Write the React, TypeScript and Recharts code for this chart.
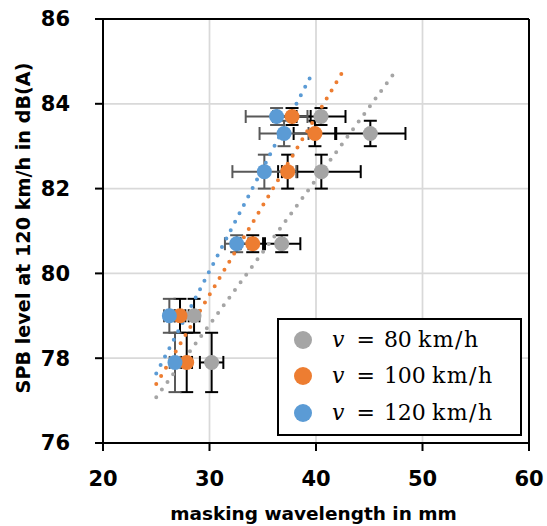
import React from 'react';
import { ScatterChart, Scatter, XAxis, YAxis, CartesianGrid, ErrorBar, ReferenceLine, Label } from 'recharts';

// ---- data ----
const speeds = ['80', '100', '120'];
const speedUnit = 'km/h';
const seriesColors = ['#A5A5A5', '#ED7D31', '#5B9BD5'];
const errorColors = ['#000000', '#000000', '#595959'];

// SPB level in dB(A) (shared rows)
const spbLevels = [77.9, 79.0, 80.7, 82.4, 83.3, 83.7];
const spbErr = [0.7, 0.4, 0.2, 0.4, 0.3, 0.2];

// masking wavelength in mm per speed
const wavelength80 = [30.2, 28.55, 36.78, 40.5, 45.1, 40.47];
const wavelength100 = [27.86, 27.23, 34.06, 37.34, 39.9, 37.75];
const wavelength120 = [26.76, 26.23, 32.55, 35.15, 37.0, 36.3];

const wavelengthErr80 = [1.1, 0.5, 1.75, 3.7, 3.3, 2.3];
const wavelengthErr100 = [0.5, 0.5, 1.15, 0.9, 2.0, 1.75];
const wavelengthErr120 = [0.5, 0.5, 1.1, 3.0, 2.3, 2.9];

// linear trend lines (start / end)
const trendX80 = [25.0, 47.48];
const trendY80 = [77.08, 84.77];
const trendX100 = [25.0, 42.66];
const trendY100 = [77.39, 84.82];
const trendX120 = [25.0, 39.65];
const trendY120 = [77.64, 84.72];

const xTicks = [20, 30, 40, 50, 60];
const yTicks = [76, 78, 80, 82, 84, 86];

const xTitle = 'masking wavelength in mm';
const yTitle = 'SPB level at 120 km/h in dB(A)';

// ---- build ----
const wavelengths = [wavelength80, wavelength100, wavelength120];
const wavelengthErrs = [wavelengthErr80, wavelengthErr100, wavelengthErr120];
const series = wavelengths.map((wl, i) =>
  spbLevels.map((y, j) => ({ x: wl[j], y, ex: wavelengthErrs[i][j], ey: spbErr[j] }))
);
const trends = [
  [trendX80, trendY80],
  [trendX100, trendY100],
  [trendX120, trendY120],
].map(([xs, ys]) => xs.map((x, k) => ({ x, y: ys[k] })));

const tickStyle = { fill: '#000', fontSize: 21, fontWeight: 700, fontFamily: 'DejaVu Sans' };

const App = () => (
  <div style={{ position: 'absolute', left: 0, top: 0, width: 547, height: 526, background: '#fff' }}>
    <ScatterChart width={547} height={526} margin={{ top: 19, right: 18, bottom: 0, left: 0 }}>
      <CartesianGrid stroke="#D9D9D9" strokeWidth={1.75} />
      <XAxis
        type="number"
        dataKey="x"
        domain={[20, 60]}
        ticks={xTicks}
        height={83}
        tickSize={8}
        tickMargin={20}
        axisLine={{ stroke: '#000', strokeWidth: 2 }}
        tickLine={{ stroke: '#000', strokeWidth: 2 }}
        tick={tickStyle}
        interval={0}
      >
        <Label
          content={(props: any) => {
            const vb = props.viewBox || { x: 103, y: 443, width: 426, height: 83 };
            return (
              <text
                x={vb.x + vb.width / 2 - 2.5}
                y={vb.y + 77}
                textAnchor="middle"
                fontFamily="DejaVu Sans"
                fontWeight={700}
                fontSize={18.5}
                fill="#000"
              >
                {xTitle}
              </text>
            );
          }}
        />
      </XAxis>
      <YAxis
        type="number"
        dataKey="y"
        domain={[76, 86]}
        ticks={yTicks}
        width={103}
        tickSize={8}
        tickMargin={25}
        axisLine={{ stroke: '#000', strokeWidth: 2 }}
        tickLine={{ stroke: '#000', strokeWidth: 2 }}
        tick={tickStyle}
        interval={0}
      >
        <Label
          content={(props: any) => {
            const vb = props.viewBox || { x: 0, y: 19, width: 103, height: 424 };
            const cx = vb.x + 23;
            const cy = vb.y + vb.height / 2 - 3;
            return (
              <text
                x={cx}
                y={cy}
                transform={`rotate(-90, ${cx}, ${cy})`}
                textAnchor="middle"
                dominantBaseline="central"
                fontFamily="DejaVu Sans"
                fontWeight={700}
                fontSize={19.2}
                fill="#000"
              >
                {yTitle}
              </text>
            );
          }}
        />
      </YAxis>
      <ReferenceLine y={86} stroke="#000" strokeWidth={2} />
      <ReferenceLine x={60} stroke="#000" strokeWidth={2} />
      {trends.map((t, i) => (
        <Scatter
          key={`trend-${i}`}
          data={t}
          isAnimationActive={false}
          line={{
            stroke: seriesColors[i],
            strokeWidth: 4,
            strokeDasharray: '0 9.5',
            strokeLinecap: 'round',
            fill: 'none',
          }}
          shape={() => <g />}
        />
      ))}
      {series.map((d, i) => (
        <Scatter
          key={`s-${i}`}
          data={d}
          fill={seriesColors[i]}
          isAnimationActive={false}
          shape={(p: any) => <circle cx={p.cx} cy={p.cy} r={7.5} fill={seriesColors[i]} />}
        >
          <ErrorBar dataKey="ex" direction="x" stroke={errorColors[i]} strokeWidth={2} width={6.5} isAnimationActive={false} />
          <ErrorBar dataKey="ey" direction="y" stroke={errorColors[i]} strokeWidth={2} width={6.5} isAnimationActive={false} />
        </Scatter>
      ))}
    </ScatterChart>
    <div
      style={{
        position: 'absolute',
        left: 277,
        top: 318,
        width: 245,
        height: 118,
        boxSizing: 'border-box',
        border: '2px solid #000',
        background: '#fff',
        fontFamily: 'DejaVu Serif',
        fontSize: 22,
        color: '#000',
      }}
    >
      {speeds.map((s, i) => (
        <div key={s} style={{ position: 'absolute', left: 0, top: 2 + i * 36.3, height: 36, width: '100%' }}>
          <span
            style={{
              position: 'absolute',
              left: 15.3,
              top: 9,
              width: 18,
              height: 18,
              borderRadius: '50%',
              background: seriesColors[i],
            }}
          />
          <span style={{ position: 'absolute', left: 53, top: 0, lineHeight: '36px', whiteSpace: 'nowrap' }}>
            <i>v</i>
            <span style={{ marginLeft: 12, marginRight: 9 }}>=</span>
            {s}
            <span style={{ marginLeft: 6, letterSpacing: 1.5 }}>{speedUnit}</span>
          </span>
        </div>
      ))}
    </div>
  </div>
);

export default App;
